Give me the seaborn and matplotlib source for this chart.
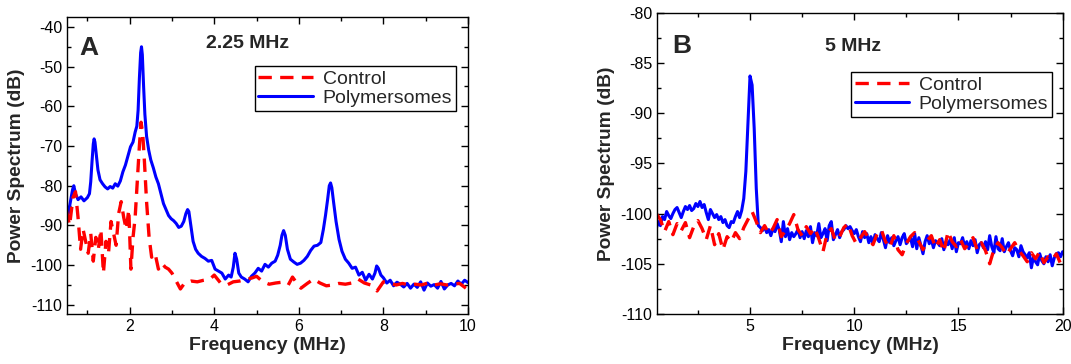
import numpy as np
import pandas as pd
import matplotlib
matplotlib.use("Agg")
import matplotlib.pyplot as plt
from matplotlib.ticker import MultipleLocator
import seaborn as sns

# ---------------- Panel A data (2.25 MHz) ----------------
freq_a_poly = [0.50,0.55,0.60,0.65,0.68,0.72,0.78,0.85,0.92,1.00,1.05,1.08,1.11,1.14,1.16,1.18,1.21,1.25,1.30,1.36,
               1.42,1.48,1.54,1.60,1.66,1.72,1.78,1.84,1.90,1.96,2.02,2.08,2.13,2.17,2.20,2.23,2.26,2.28,2.30,2.33,
               2.36,2.40,2.45,2.50,2.56,2.62,2.68,2.74,2.80,2.86,2.92,2.98,3.04,3.10,3.16,3.22,3.28,3.33,3.37,3.40,
               3.44,3.50,3.56,3.62,3.70,3.78,3.86,3.94,4.02,4.10,4.18,4.26,4.34,4.40,4.45,4.49,4.53,4.58,4.64,4.72,
               4.80,4.88,4.96,5.04,5.12,5.20,5.28,5.36,5.44,5.50,5.56,5.60,5.64,5.68,5.73,5.80,5.88,5.96,6.04,6.12,
               6.20,6.28,6.36,6.44,6.52,6.58,6.63,6.68,6.72,6.75,6.78,6.82,6.88,6.95,7.02,7.10,7.18,7.26,7.34,7.42,
               7.50,7.58,7.66,7.74,7.80,7.84,7.88,7.94,8.00,8.08,8.16,8.24,8.32,8.40,8.48,8.56,8.64,8.72,8.80,8.88,
               8.96,9.04,9.12,9.20,9.28,9.36,9.44,9.52,9.60,9.68,9.76,9.84,9.92,10.0]
power_a_poly = [-88.5,-87.0,-84.0,-81.0,-80.0,-82.0,-83.5,-82.8,-83.8,-83.0,-82.0,-79.0,-74.0,-69.5,-68.2,-69.0,-72.0,-76.0,-78.5,-79.5,
                -80.3,-80.8,-80.2,-80.6,-79.5,-80.1,-78.8,-76.5,-74.8,-72.5,-70.2,-69.0,-66.5,-65.0,-61.0,-53.0,-46.5,-45.0,-47.0,-55.0,
                -62.0,-67.5,-71.0,-73.5,-75.5,-77.8,-79.5,-82.0,-84.5,-86.0,-87.5,-88.3,-88.8,-89.5,-90.5,-90.2,-89.0,-87.0,-86.0,-86.5,
                -89.5,-94.0,-96.0,-97.0,-97.8,-98.3,-99.0,-98.8,-101.0,-101.5,-102.0,-103.5,-102.5,-103.0,-100.5,-97.0,-98.5,-102.0,-103.0,-103.5,
                -104.2,-102.8,-102.0,-100.8,-101.5,-99.8,-100.5,-99.5,-99.0,-97.5,-95.0,-92.5,-91.3,-92.5,-96.0,-98.5,-99.2,-99.8,-99.5,-98.8,
                -97.8,-96.3,-95.2,-95.0,-94.3,-91.0,-87.5,-83.5,-80.0,-79.3,-80.5,-84.0,-89.0,-93.5,-96.5,-98.5,-99.5,-100.8,-100.5,-102.5,
                -101.8,-103.8,-102.3,-103.5,-102.0,-100.2,-100.8,-102.5,-103.2,-104.5,-103.8,-105.2,-104.3,-104.8,-105.5,-104.6,-105.8,-104.8,-105.6,-104.2,
                -106.3,-104.5,-105.3,-104.9,-105.8,-104.1,-106.0,-105.0,-104.6,-105.2,-104.0,-104.8,-103.8,-104.4]

freq_a_ctrl = [0.50,0.58,0.66,0.72,0.78,0.84,0.90,0.96,1.02,1.08,1.14,1.20,1.26,1.32,1.38,1.44,1.50,1.56,1.62,1.68,
               1.74,1.80,1.86,1.92,1.98,2.03,2.08,2.13,2.18,2.23,2.27,2.31,2.35,2.40,2.46,2.52,2.60,2.68,2.76,2.84,
               2.92,3.00,3.10,3.20,3.30,3.45,3.60,3.75,3.90,4.00,4.15,4.30,4.45,4.60,4.75,4.90,5.00,5.15,5.30,5.45,
               5.60,5.75,5.85,5.95,6.05,6.20,6.35,6.50,6.65,6.80,6.95,7.10,7.25,7.40,7.55,7.70,7.85,8.00,8.15,8.30,
               8.45,8.60,8.75,8.90,9.05,9.20,9.35,9.50,9.65,9.80,9.95]
power_a_ctrl = [-86.0,-90.0,-83.0,-81.5,-88.0,-96.0,-91.0,-94.0,-97.0,-92.0,-99.0,-93.0,-96.0,-91.0,-102.0,-94.0,-97.0,-89.0,-92.0,-95.0,
                -87.0,-84.0,-88.0,-91.0,-86.0,-101.0,-93.0,-88.0,-79.0,-70.0,-64.0,-67.0,-74.0,-84.0,-93.0,-98.0,-97.0,-101.0,-99.5,-100.5,
                -101.0,-102.0,-104.0,-106.0,-104.5,-104.0,-104.2,-103.8,-103.5,-102.5,-104.5,-105.0,-104.2,-104.0,-103.6,-103.2,-102.8,-104.2,-104.8,-104.5,
                -104.3,-105.0,-103.0,-104.5,-105.8,-104.6,-103.5,-104.5,-105.2,-105.0,-104.6,-104.8,-104.5,-103.5,-104.5,-105.0,-106.5,-104.2,-104.5,-105.0,
                -104.6,-105.0,-104.8,-105.0,-104.5,-105.0,-104.7,-105.0,-104.8,-104.6,-105.8]

# ---------------- Panel B data (5 MHz) ----------------
freq_b_poly = np.round(np.arange(0.5, 20.001, 0.1), 2)
power_b_poly = [-101.5,-100.8,-101.2,-100.3,-100.6,-99.8,-100.2,-100.5,-100.0,-99.6,
                -99.4,-99.9,-100.4,-99.8,-99.3,-99.6,-99.2,-99.7,-99.5,-99.0,
                -99.3,-98.8,-99.4,-99.1,-99.9,-100.6,-99.6,-100.0,-100.4,-100.1,
                -100.6,-100.3,-100.9,-100.6,-101.2,-101.4,-100.8,-100.9,-100.3,-99.8,
                -100.4,-99.7,-98.5,-95.8,-91.0,-86.3,-87.2,-91.5,-97.5,-101.2,
                -101.4,-101.7,-101.3,-101.9,-101.6,-102.2,-101.5,-101.8,-101.0,-101.6,
                -102.8,-100.8,-102.3,-101.5,-102.6,-101.9,-102.3,-102.0,-101.6,-102.4,
                -101.8,-102.5,-101.7,-102.3,-101.3,-102.9,-101.9,-102.2,-101.0,-102.4,
                -102.0,-101.5,-102.7,-101.2,-100.8,-102.6,-102.1,-101.6,-102.4,-101.8,
                -101.6,-101.2,-101.5,-101.3,-101.7,-102.0,-101.6,-102.3,-102.8,-101.8,
                -102.4,-102.0,-102.9,-102.3,-103.0,-102.1,-102.5,-102.8,-101.9,-102.6,
                -103.4,-102.2,-102.9,-102.4,-103.2,-102.7,-102.3,-103.1,-102.4,-102.0,
                -103.0,-102.7,-102.4,-103.3,-102.0,-103.5,-102.4,-103.2,-104.0,-102.8,
                -102.2,-103.0,-102.6,-103.4,-102.7,-102.9,-103.2,-102.5,-103.6,-102.8,
                -103.1,-102.6,-103.5,-102.4,-103.8,-102.9,-103.0,-102.4,-103.3,-102.8,
                -103.5,-102.7,-103.2,-102.6,-103.9,-103.1,-102.9,-103.4,-102.8,-103.6,
                -102.2,-103.3,-103.9,-102.3,-103.5,-103.7,-102.5,-103.8,-103.3,-102.9,
                -103.7,-104.2,-103.4,-103.6,-104.3,-103.2,-103.8,-104.1,-104.4,-103.9,
                -105.4,-104.3,-104.8,-105.1,-104.0,-104.7,-105.0,-104.3,-104.8,-104.1,
                -105.2,-104.4,-104.0,-103.9,-104.3,-103.8]

freq_b_ctrl = np.round(np.arange(0.5, 19.95, 0.2), 2)
power_b_ctrl = [-100.0,-100.6,-101.8,-100.8,-102.1,-101.0,-101.7,-100.9,-102.4,-101.3,
                -100.7,-101.5,-102.6,-101.2,-103.1,-102.0,-103.6,-102.3,-102.8,-101.9,
                -102.5,-101.4,-100.6,-99.8,-100.8,-101.9,-101.2,-102.0,-101.5,-100.6,
                -102.3,-101.7,-101.0,-100.1,-101.6,-102.2,-101.3,-102.0,-101.4,-102.5,
                -103.8,-102.0,-101.5,-102.7,-102.3,-101.4,-101.0,-102.2,-103.0,-102.4,
                -101.8,-102.5,-103.1,-102.0,-101.6,-102.8,-103.4,-102.2,-103.6,-104.1,
                -103.0,-102.3,-101.9,-102.8,-103.6,-102.7,-102.2,-103.4,-102.6,-103.8,
                -101.8,-102.8,-103.3,-102.6,-103.5,-103.0,-102.4,-103.6,-102.9,-103.7,
                -105.0,-103.6,-102.9,-103.4,-104.1,-103.5,-102.9,-103.7,-104.2,-104.8,
                -103.9,-104.5,-103.8,-104.9,-104.3,-104.6,-104.0,-105.0]

series_labels = ["Control", "Polymersomes"]
panel_letters = ["A", "B"]
panel_titles = ["2.25 MHz", "5 MHz"]
x_label = "Frequency (MHz)"
y_label = "Power Spectrum (dB)"

# ---------------- style ----------------
sns.set_style("ticks")
plt.rcParams["font.family"] = ["Liberation Sans", "DejaVu Sans"]
plt.rcParams["axes.linewidth"] = 1.0
plt.rcParams["axes.unicode_minus"] = False

fig = plt.figure(figsize=(10.71, 3.64), dpi=100)
axA = fig.add_axes([0.0626, 0.1374, 0.3744, 0.8159])
axB = fig.add_axes([0.6137, 0.1374, 0.3785, 0.8277])

BLUE = "#0000ff"
RED = "#ff0000"

def draw(ax, fp, pp, fc, pc):
    sns.lineplot(x=fp, y=pp, ax=ax, color=BLUE, linewidth=2.2,
                 estimator=None, sort=False, label=series_labels[1])
    sns.lineplot(x=fc, y=pc, ax=ax, color=RED, linewidth=2.4,
                 linestyle=(0, (4, 2.5)), estimator=None, sort=False,
                 label=series_labels[0])

draw(axA, freq_a_poly, power_a_poly, freq_a_ctrl, power_a_ctrl)
draw(axB, freq_b_poly, power_b_poly, freq_b_ctrl, power_b_ctrl)

axA.set_xlim(0.52, 10)
axA.set_ylim(-112.3, -37.5)
axA.xaxis.set_major_locator(MultipleLocator(2))
axA.xaxis.set_minor_locator(MultipleLocator(1))
axA.yaxis.set_major_locator(MultipleLocator(10))
axA.yaxis.set_minor_locator(MultipleLocator(5))

axB.set_xlim(0.55, 20)
axB.set_ylim(-110, -80)
axB.xaxis.set_major_locator(MultipleLocator(5))
axB.xaxis.set_minor_locator(MultipleLocator(2.5))
axB.yaxis.set_major_locator(MultipleLocator(5))
axB.yaxis.set_minor_locator(MultipleLocator(2.5))

legend_anchor = [(0.970, 0.835), (0.974, 0.803)]
letter_pos = [(0.030, 0.896), (0.037, 0.889)]
title_pos = [(0.451, 0.912), (0.484, 0.889)]
for i, ax in enumerate([axA, axB]):
    for s in ax.spines.values():
        s.set_visible(True)
        s.set_color("black")
        s.set_linewidth(1.0)
    ax.tick_params(which="both", direction="in", top=True, right=True,
                   labelsize=11.5, colors="black", width=1.0)
    ax.tick_params(which="major", length=5)
    ax.tick_params(which="minor", length=3)
    ax.set_xlabel(x_label, fontsize=14, fontweight="bold", labelpad=2)
    ax.set_ylabel(y_label, fontsize=13.8, fontweight="bold", labelpad=4)
    ax.text(*letter_pos[i], panel_letters[i],
            transform=ax.transAxes, fontsize=19, fontweight="bold", va="center", ha="left")
    ax.text(*title_pos[i], panel_titles[i],
            transform=ax.transAxes, fontsize=14, fontweight="bold", va="center", ha="center")
    h, l = ax.get_legend_handles_labels()
    order = [l.index(series_labels[0]), l.index(series_labels[1])]
    leg = ax.legend([h[k] for k in order], [l[k] for k in order],
                    loc="upper right", bbox_to_anchor=legend_anchor[i], borderaxespad=0,
                    fontsize=14, frameon=True, fancybox=False, edgecolor="black",
                    framealpha=1, labelspacing=0.1, borderpad=0.2,
                    handlelength=2.8, handletextpad=0.5)
    leg.get_frame().set_linewidth(1.0)

fig.savefig("out.png", dpi=100)
